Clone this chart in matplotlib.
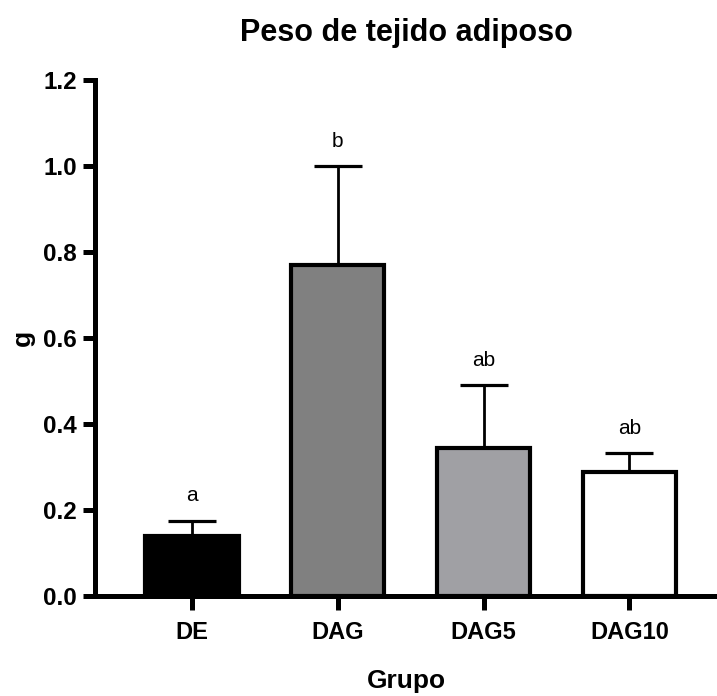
import matplotlib.pyplot as plt
import numpy as np

plt.rcParams['font.family'] = ['Liberation Sans', 'DejaVu Sans']

# Data
grupos = ['DE', 'DAG', 'DAG5', 'DAG10']
medias = [0.139, 0.771, 0.344, 0.289]
error_sup = [0.036, 0.229, 0.146, 0.043]
letras = ['a', 'b', 'ab', 'ab']
colores = ['#000000', '#808080', '#a0a0a4', '#ffffff']


def main():
    fig = plt.figure(figsize=(7.17, 6.96), dpi=100)
    ax = fig.add_axes([0.1325, 0.1437, 0.8675, 0.741])

    x = np.arange(len(grupos))
    ax.bar(x, medias, width=0.64, color=colores, edgecolor='black',
           linewidth=3.0, zorder=2)
    ax.errorbar(x, medias, yerr=[np.zeros(len(x)), error_sup], fmt='none',
                ecolor='black', elinewidth=2.0, capsize=17, capthick=2.3,
                zorder=1)

    for xi, m, e, t in zip(x, medias, error_sup, letras):
        ax.text(xi, m + e + 0.058, t, ha='center', va='center', fontsize=15)

    ax.set_xlim(-0.664, 3.6)
    ax.set_ylim(0, 1.2)
    ax.set_yticks(np.arange(0, 1.21, 0.2))
    ax.set_yticklabels([f'{v:.1f}' for v in np.arange(0, 1.21, 0.2)],
                       fontweight='bold', fontsize=17.5)
    ax.set_xticks(x)
    ax.set_xticklabels(grupos, fontweight='bold', fontsize=17)

    ax.spines['top'].set_visible(False)
    ax.spines['right'].set_visible(False)
    ax.spines['left'].set_linewidth(3.6)
    ax.spines['bottom'].set_linewidth(3.6)
    ax.spines['left'].set_capstyle('projecting')
    ax.spines['bottom'].set_capstyle('projecting')
    ax.tick_params(axis='y', direction='out', length=9, width=3.6, pad=4)
    ax.tick_params(axis='x', direction='out', length=10, width=3.6, pad=8)

    ax.set_ylabel('g', fontweight='bold', fontsize=19, labelpad=6)
    ax.set_xlabel('Grupo', fontweight='bold', fontsize=19, labelpad=18)
    ax.set_title('Peso de tejido adiposo', fontweight='bold', fontsize=22,
                 pad=28)

    fig.savefig('out.png', dpi=100)


if __name__ == "__main__":
    main()
